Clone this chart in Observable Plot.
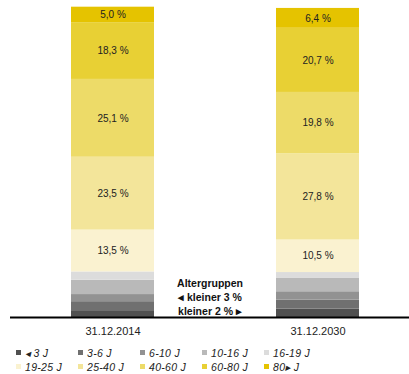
<!DOCTYPE html>
<html>
<head>
<meta charset="utf-8">
<script src="https://cdn.jsdelivr.net/npm/d3@7"></script>
<script src="https://cdn.jsdelivr.net/npm/@observablehq/plot@0.6"></script>
<style>
  body { margin: 0; background: #fff; font-family: "Liberation Sans", Arial, sans-serif; }
  #legend { display: grid; grid-template-columns: repeat(5, 62px); margin-left: 16px; padding-top: 6px; row-gap: 1px; }
  #legend .item { display: flex; align-items: center; height: 13px; font-size: 10.5px; font-style: italic; color: #222; letter-spacing: 0.3px; white-space: nowrap; }
  #legend .sw { width: 5px; height: 5px; margin-right: 4px; flex: none; }
</style>
</head>
<body>
<div id="chart"></div>
<div id="legend"></div>
<script>
const categories = ["31.12.2014", "31.12.2030"];
const groups = ["◂ 3 J", "3-6 J", "6-10 J", "10-16 J", "16-19 J", "19-25 J", "25-40 J", "40-60 J", "60-80 J", "80▸ J"];
const values2014 = [2.2, 2.9, 2.3, 4.6, 2.7, 13.5, 23.5, 25.1, 18.3, 5.0];
const values2030 = [2.7, 2.9, 2.7, 4.3, 1.9, 10.5, 27.8, 19.8, 20.7, 6.4];
const colors = ["#505050", "#707070", "#929292", "#b9b9b9", "#dcdcdc", "#faf2d0", "#f3e59a", "#eddb68", "#e8d034", "#e5c300"];
const annotation = "Altergruppen\n◂ kleiner 3 %\nkleiner 2 % ▸";

const data = [];
[values2014, values2030].forEach((vals, i) => {
  vals.forEach((v, j) => data.push({cat: categories[i], group: groups[j], value: v}));
});
const fmt = v => v.toFixed(1).replace(".", ",") + " %";

const chart = Plot.plot({
  width: 409,
  height: 340,
  marginTop: 7,
  marginBottom: 23,
  marginLeft: 10,
  marginRight: 0,
  style: {fontFamily: "'Liberation Sans', Arial, sans-serif", fontSize: "10px", background: "#fff"},
  x: {domain: categories, paddingInner: 0.594, paddingOuter: 0.268, align: 0.554, label: null, axis: null},
  y: {domain: [0, 100], axis: null},
  color: {domain: groups, range: colors},
  marks: [
    Plot.barY(data, {x: "cat", y: "value", fill: "group", order: null}),
    Plot.text(data, Plot.stackY({x: "cat", y: "value", z: "group", order: null,
      text: d => d.value >= 5 ? fmt(d.value) : "", fill: "#222", fontSize: 10})),
    Plot.ruleY([0], {stroke: "#000", strokeWidth: 2}),
    Plot.axisX({tickSize: 0, tickPadding: 10, fontSize: 11, fill: "#222", label: null}),
    Plot.text([annotation], {frameAnchor: "bottom", lineAnchor: "bottom", dy: -3, lineHeight: 1.3,
      fontWeight: "bold", fontSize: 10.5, fill: "#111"})
  ]
});
document.getElementById("chart").appendChild(chart);

const legend = document.getElementById("legend");
groups.forEach((g, i) => {
  const item = document.createElement("div");
  item.className = "item";
  const sw = document.createElement("span");
  sw.className = "sw";
  sw.style.background = colors[i];
  item.appendChild(sw);
  item.appendChild(document.createTextNode(g));
  legend.appendChild(item);
});
</script>
</body>
</html>
